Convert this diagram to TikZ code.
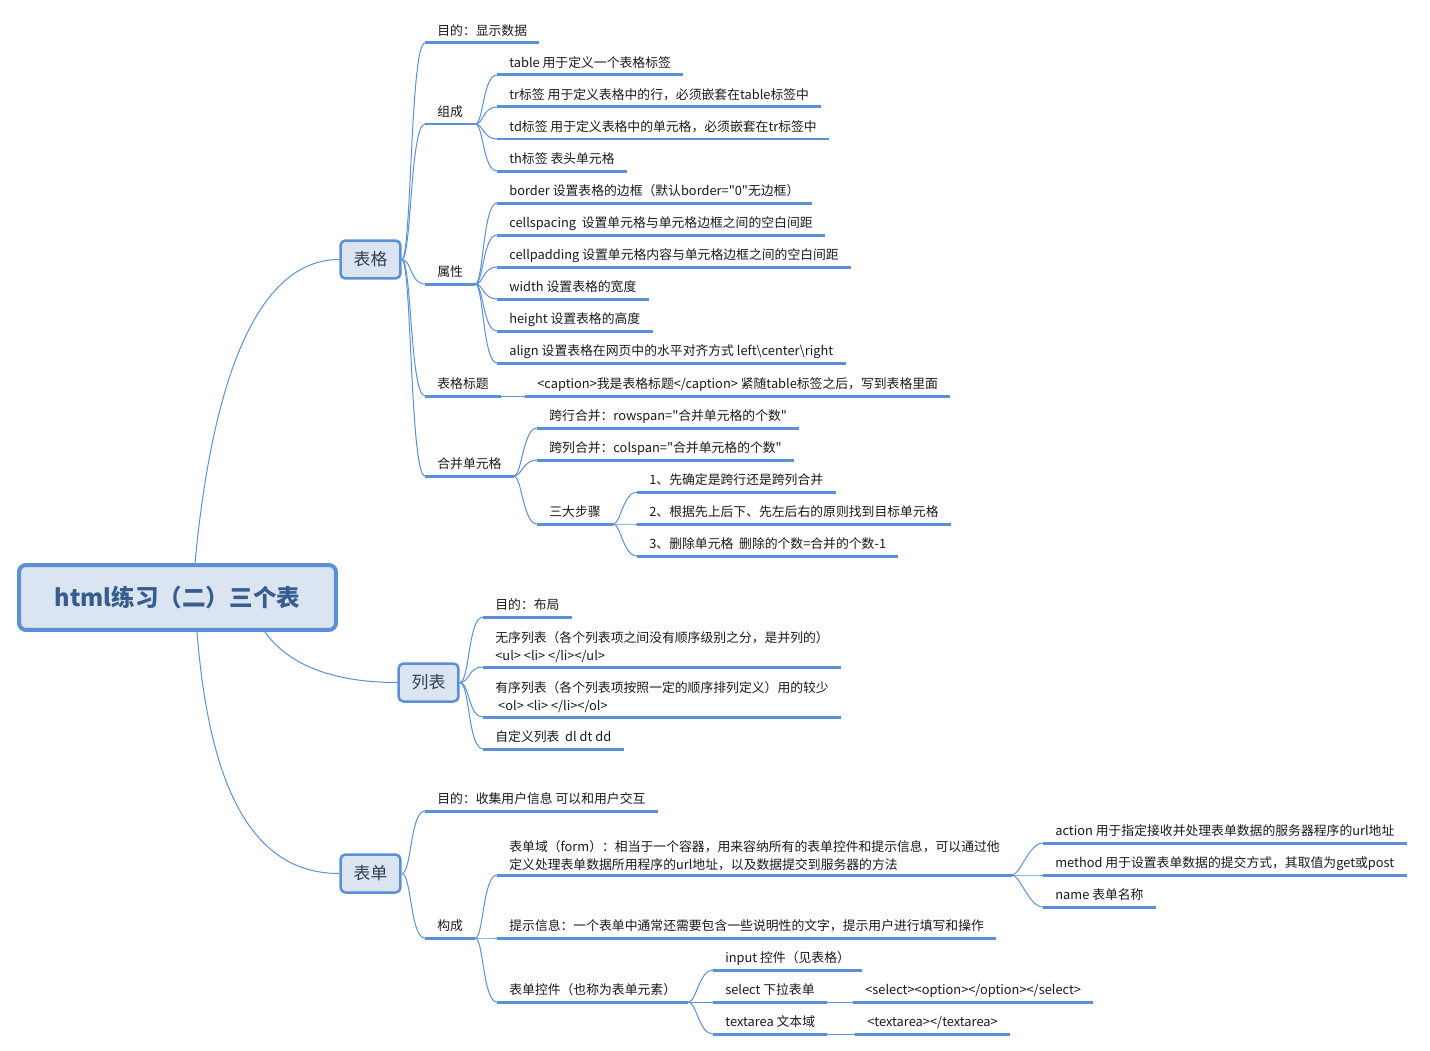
\documentclass[tikz,border=0pt]{standalone}
\usepackage{fontspec}
\setmainfont{Noto Sans CJK SC}[Ligatures=TeXOff]
\usepackage{tikz}
\usetikzlibrary{positioning}

\definecolor{mapline}{HTML}{5B8FD6}
\definecolor{mapfill}{HTML}{DBE5F1}
\definecolor{maproot}{HTML}{375D8E}
\definecolor{maptopic}{HTML}{333D4D}

\begin{document}
\begin{tikzpicture}[x=0.02cm, y=-0.02cm,
  root/.style={draw=mapline, fill=mapfill, line width=0.08cm, rounded corners=0.14cm,
    minimum width=6.34cm, minimum height=1.3cm, text=maproot,
    font=\fontsize{13.4}{15}\selectfont\bfseries},
  topic/.style={draw=mapline, fill=mapfill, line width=0.05cm, rounded corners=0.1cm,
    minimum width=1.2cm, minimum height=0.76cm, text=maptopic,
    font=\fontsize{9.6}{11}\selectfont},
  leaf/.style={anchor=south west, inner xsep=0.24cm, inner ysep=2.2pt,
    text height=6.6pt, text depth=1.8pt, align=left, text=black!90,
    font=\fontsize{7.3}{10.2}\selectfont},
  leaftwo/.style={leaf, text height=, text depth=},
  uline/.style={draw=mapline, line width=0.06cm},
  link/.style={draw=mapline, line width=0.02cm}]
  \useasboundingbox (0,0) rectangle (1430,1051);

  % tema centrale e tre rami (1 unita' = 1 px del riferimento)
  \node[root]  (root)    at (177.5,597.5) {html练习（二）三个表};
  \node[topic] (biaoge)  at (370.5,259.5) {表格};
  \node[topic] (liebiao) at (428.5,682.5) {列表};
  \node[topic] (biaodan) at (370.5,873.5) {表单};
  \draw[link] ([xshift=0.35cm]root.north) .. controls +(15,-160) and +(-90,0) .. (biaoge.west);
  \draw[link] ([xshift=1.75cm]root.south) .. controls +(25,35) and +(-60,0) .. (liebiao.west);
  \draw[link] ([xshift=0.39cm]root.south) .. controls +(12,150) and +(-90,0) .. (biaodan.west);

  % ramo: tabella
  \foreach \nm/\y/\txt in {bgMudi/43/{目的：显示数据}, bgZucheng/124/{组成},
                          bgShuxing/284/{属性}, bgBiaoti/396/{表格标题},
                          bgHebing/476/{合并单元格}}{
    \node[leaf] (\nm) at (425,\y) {\txt};
    \draw[uline] (\nm.south west) -- (\nm.south east);
    \draw[link] (biaoge.east) .. controls +(10,0) and +(-15,0) .. (\nm.south west);
  }
  \foreach \nm/\y/\txt in {zcTable/75/{table 用于定义一个表格标签},
                          zcTr/107/{tr标签 用于定义表格中的行，必须嵌套在table标签中},
                          zcTd/139/{td标签 用于定义表格中的单元格，必须嵌套在tr标签中},
                          zcTh/171/{th标签 表头单元格}}{
    \node[leaf] (\nm) at (497,\y) {\txt};
    \draw[uline] (\nm.south west) -- (\nm.south east);
    \draw[link] (bgZucheng.south east) .. controls +(8,0) and +(-14,0) .. (\nm.south west);
  }
  \foreach \nm/\y/\txt in {sxBorder/203/{border 设置表格的边框（默认border="0"无边框）},
                          sxSpacing/235/{cellspacing~~设置单元格与单元格边框之间的空白间距},
                          sxPadding/267/{cellpadding 设置单元格内容与单元格边框之间的空白间距},
                          sxWidth/299/{width 设置表格的宽度},
                          sxHeight/331/{height 设置表格的高度},
                          sxAlign/363/{align 设置表格在网页中的水平对齐方式 left\textbackslash center\textbackslash right}}{
    \node[leaf] (\nm) at (497,\y) {\txt};
    \draw[uline] (\nm.south west) -- (\nm.south east);
    \draw[link] (bgShuxing.south east) .. controls +(8,0) and +(-14,0) .. (\nm.south west);
  }
  \node[leaf] (btCaption) at (525,396) {<caption>我是表格标题</caption> 紧随table标签之后，写到表格里面};
  \draw[uline] (btCaption.south west) -- (btCaption.south east);
  \draw[link] (bgBiaoti.south east) -- (btCaption.south west);
  \foreach \nm/\y/\txt in {hbRow/428/{跨行合并：rowspan="合并单元格的个数"},
                          hbCol/460/{跨列合并：colspan="合并单元格的个数"},
                          hbStep/524/{三大步骤}}{
    \node[leaf] (\nm) at (537,\y) {\txt};
    \draw[uline] (\nm.south west) -- (\nm.south east);
    \draw[link] (bgHebing.south east) .. controls +(8,0) and +(-14,0) .. (\nm.south west);
  }
  \foreach \nm/\y/\txt in {stOne/492/{1、先确定是跨行还是跨列合并},
                          stTwo/524/{2、根据先上后下、先左后右的原则找到目标单元格},
                          stThree/556/{3、删除单元格~~删除的个数=合并的个数-1}}{
    \node[leaf] (\nm) at (637,\y) {\txt};
    \draw[uline] (\nm.south west) -- (\nm.south east);
    \draw[link] (hbStep.south east) .. controls +(8,0) and +(-14,0) .. (\nm.south west);
  }

  % ramo: liste
  \node[leaf]    (lbMudi) at (483,617) {目的：布局};
  \node[leaftwo] (lbUl)   at (483,667) {无序列表（各个列表项之间没有顺序级别之分，是并列的）\\<ul> <li> </li></ul>};
  \node[leaftwo] (lbOl)   at (483,717) {有序列表（各个列表项按照一定的顺序排列定义）用的较少\\~<ol> <li> </li></ol>};
  \node[leaf]    (lbDl)   at (483,749) {自定义列表~~dl dt dd};
  \foreach \nm in {lbMudi, lbUl, lbOl, lbDl}{
    \draw[uline] (\nm.south west) -- (\nm.south east);
    \draw[link] (liebiao.east) .. controls +(10,0) and +(-15,0) .. (\nm.south west);
  }

  % ramo: moduli
  \foreach \nm/\y/\txt in {bdMudi/811/{目的：收集用户信息 可以和用户交互},
                          bdGoucheng/938/{构成}}{
    \node[leaf] (\nm) at (425,\y) {\txt};
    \draw[uline] (\nm.south west) -- (\nm.south east);
    \draw[link] (biaodan.east) .. controls +(10,0) and +(-15,0) .. (\nm.south west);
  }
  \node[leaftwo] (gcYu)       at (497,875)  {表单域（form）：相当于一个容器，用来容纳所有的表单控件和提示信息，可以通过他\\定义处理表单数据所用程序的url地址，以及数据提交到服务器的方法};
  \node[leaf]    (gcTishi)    at (497,938)  {提示信息：一个表单中通常还需要包含一些说明性的文字，提示用户进行填写和操作};
  \node[leaf]    (gcKongjian) at (497,1002) {表单控件（也称为表单元素）};
  \foreach \nm in {gcYu, gcTishi, gcKongjian}{
    \draw[uline] (\nm.south west) -- (\nm.south east);
    \draw[link] (bdGoucheng.south east) .. controls +(8,0) and +(-14,0) .. (\nm.south west);
  }
  \foreach \nm/\y/\txt in {yuAction/843/{action 用于指定接收并处理表单数据的服务器程序的url地址},
                          yuMethod/875/{method 用于设置表单数据的提交方式，其取值为get或post},
                          yuName/907/{name 表单名称}}{
    \node[leaf] (\nm) at (1043,\y) {\txt};
    \draw[uline] (\nm.south west) -- (\nm.south east);
    \draw[link] (gcYu.south east) .. controls +(8,0) and +(-14,0) .. (\nm.south west);
  }
  \foreach \nm/\y/\txt in {kjInput/970/{input 控件（见表格）},
                          kjSelect/1002/{select 下拉表单},
                          kjText/1034/{textarea 文本域}}{
    \node[leaf] (\nm) at (713,\y) {\txt};
    \draw[uline] (\nm.south west) -- (\nm.south east);
    \draw[link] (gcKongjian.south east) .. controls +(8,0) and +(-14,0) .. (\nm.south west);
  }
  \node[leaf] (slTag) at (853,1002) {<select><option></option></select>};
  \node[leaf] (taTag) at (855,1034) {<textarea></textarea>};
  \draw[uline] (slTag.south west) -- (slTag.south east);
  \draw[uline] (taTag.south west) -- (taTag.south east);
  \draw[link] (kjSelect.south east) -- (slTag.south west);
  \draw[link] (kjText.south east) -- (taTag.south west);
\end{tikzpicture}
\end{document}
